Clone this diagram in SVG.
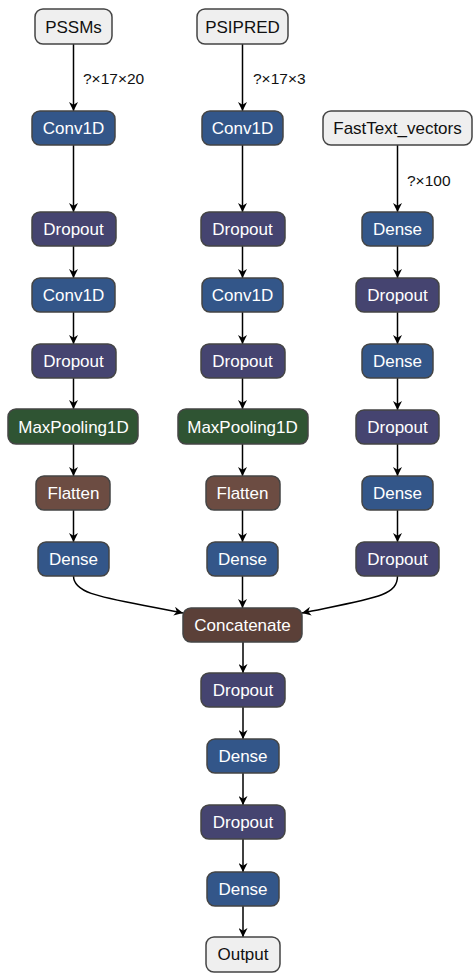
<svg xmlns="http://www.w3.org/2000/svg" width="473" height="973" viewBox="0 0 473 973">
<defs>
<marker id="arr" viewBox="0 0 10 10" refX="10" refY="5" markerWidth="9" markerHeight="9" markerUnits="userSpaceOnUse" orient="auto">
<path d="M0,0 L10,5 L0,10 L3,5 z" fill="#000"/>
</marker>
<style>
.n rect{stroke:#444;stroke-width:1.5;rx:8;ry:8}
.n text{font-family:"Liberation Sans",Arial,sans-serif;font-size:17px;text-anchor:middle;fill:#fff}
.in rect{fill:#efefef}
.in text{fill:#111}
.conv rect,.dense rect{fill:#335689}
.drop rect{fill:#454470}
.pool rect{fill:#2f5433}
.flat rect{fill:#6c4c42}
.cat rect{fill:#5b4038}
.e{fill:none;stroke:#000;stroke-width:1.5;marker-end:url(#arr)}
.lbl{font-family:"Liberation Sans",Arial,sans-serif;font-size:15.5px;fill:#111}
</style>
</defs>
<rect width="473" height="973" fill="#fff"/>
<g id="connectors">
<path class="e" d="M73.5,44 V111"/>
<path class="e" d="M73.5,145 V212"/>
<path class="e" d="M73.5,246 V278"/>
<path class="e" d="M73.5,312 V344"/>
<path class="e" d="M73.5,378 V409"/>
<path class="e" d="M73.5,444 V476"/>
<path class="e" d="M73.5,510 V542"/>
<path class="e" d="M242.5,44 V111"/>
<path class="e" d="M242.5,145 V212"/>
<path class="e" d="M242.5,246 V278"/>
<path class="e" d="M242.5,312 V344"/>
<path class="e" d="M242.5,378 V409"/>
<path class="e" d="M242.5,444 V476"/>
<path class="e" d="M242.5,510 V542"/>
<path class="e" d="M242.5,576 V608"/>
<path class="e" d="M397.5,145 V212"/>
<path class="e" d="M397.5,246 V278"/>
<path class="e" d="M397.5,312 V344"/>
<path class="e" d="M397.5,378 V410"/>
<path class="e" d="M397.5,444 V476"/>
<path class="e" d="M397.5,510 V542"/>
<path class="e" d="M73.5,576 C73.5,596 110,598 183,613"/>
<path class="e" d="M397.5,576 C397.5,596 375,598 302,613"/>
<path class="e" d="M243,642 V673"/>
<path class="e" d="M243,707 V739"/>
<path class="e" d="M243,773 V805"/>
<path class="e" d="M243,839 V872"/>
<path class="e" d="M243,906 V937"/>
<text class="lbl" x="83" y="84">?×17×20</text>
<text class="lbl" x="253" y="84">?×17×3</text>
<text class="lbl" x="407" y="186">?×100</text>
</g>
<g id="pssms" class="n in"><rect x="35" y="9" width="77" height="35"/><text x="73.5" y="32.5">PSSMs</text></g>
<g id="conv1d_1" class="n conv"><rect x="32" y="111" width="83" height="34"/><text x="73.5" y="134">Conv1D</text></g>
<g id="dropout_1" class="n drop"><rect x="32" y="212" width="84" height="34"/><text x="73.5" y="235">Dropout</text></g>
<g id="conv1d_2" class="n conv"><rect x="32" y="278" width="83" height="34"/><text x="73.5" y="301">Conv1D</text></g>
<g id="dropout_2" class="n drop"><rect x="32" y="344" width="84" height="34"/><text x="73.5" y="367">Dropout</text></g>
<g id="maxpool_1" class="n pool"><rect x="8" y="409" width="130" height="35"/><text x="73.5" y="432.5">MaxPooling1D</text></g>
<g id="flatten_1" class="n flat"><rect x="36" y="476" width="74" height="34"/><text x="73.5" y="499">Flatten</text></g>
<g id="dense_1" class="n dense"><rect x="38" y="542" width="71" height="34"/><text x="73.5" y="565">Dense</text></g>
<g id="psipred" class="n in"><rect x="197" y="9" width="91" height="35"/><text x="242.5" y="32.5">PSIPRED</text></g>
<g id="conv1d_3" class="n conv"><rect x="202" y="111" width="81" height="34"/><text x="242.5" y="134">Conv1D</text></g>
<g id="dropout_3" class="n drop"><rect x="201" y="212" width="84" height="34"/><text x="242.5" y="235">Dropout</text></g>
<g id="conv1d_4" class="n conv"><rect x="202" y="278" width="81" height="34"/><text x="242.5" y="301">Conv1D</text></g>
<g id="dropout_4" class="n drop"><rect x="201" y="344" width="84" height="34"/><text x="242.5" y="367">Dropout</text></g>
<g id="maxpool_2" class="n pool"><rect x="178" y="409" width="130" height="35"/><text x="242.5" y="432.5">MaxPooling1D</text></g>
<g id="flatten_2" class="n flat"><rect x="206" y="476" width="74" height="34"/><text x="242.5" y="499">Flatten</text></g>
<g id="dense_2" class="n dense"><rect x="207" y="542" width="71" height="34"/><text x="242.5" y="565">Dense</text></g>
<g id="fasttext" class="n in"><rect x="323" y="111" width="149" height="34"/><text x="397.5" y="134">FastText_vectors</text></g>
<g id="dense_3" class="n dense"><rect x="362" y="212" width="71" height="34"/><text x="397.5" y="235">Dense</text></g>
<g id="dropout_5" class="n drop"><rect x="356" y="278" width="83" height="34"/><text x="397.5" y="301">Dropout</text></g>
<g id="dense_4" class="n dense"><rect x="362" y="344" width="71" height="34"/><text x="397.5" y="367">Dense</text></g>
<g id="dropout_6" class="n drop"><rect x="356" y="410" width="83" height="34"/><text x="397.5" y="433">Dropout</text></g>
<g id="dense_5" class="n dense"><rect x="362" y="476" width="71" height="34"/><text x="397.5" y="499">Dense</text></g>
<g id="dropout_7" class="n drop"><rect x="356" y="542" width="83" height="34"/><text x="397.5" y="565">Dropout</text></g>
<g id="concatenate" class="n cat"><rect x="183" y="608" width="119" height="34"/><text x="242.5" y="631">Concatenate</text></g>
<g id="dropout_8" class="n drop"><rect x="201" y="673" width="84" height="34"/><text x="243" y="696">Dropout</text></g>
<g id="dense_6" class="n dense"><rect x="207" y="739" width="72" height="34"/><text x="243" y="762">Dense</text></g>
<g id="dropout_9" class="n drop"><rect x="201" y="805" width="84" height="34"/><text x="243" y="828">Dropout</text></g>
<g id="dense_7" class="n dense"><rect x="207" y="872" width="72" height="34"/><text x="243" y="895">Dense</text></g>
<g id="output" class="n in"><rect x="206" y="937" width="74" height="35"/><text x="243" y="960">Output</text></g>
</svg>
